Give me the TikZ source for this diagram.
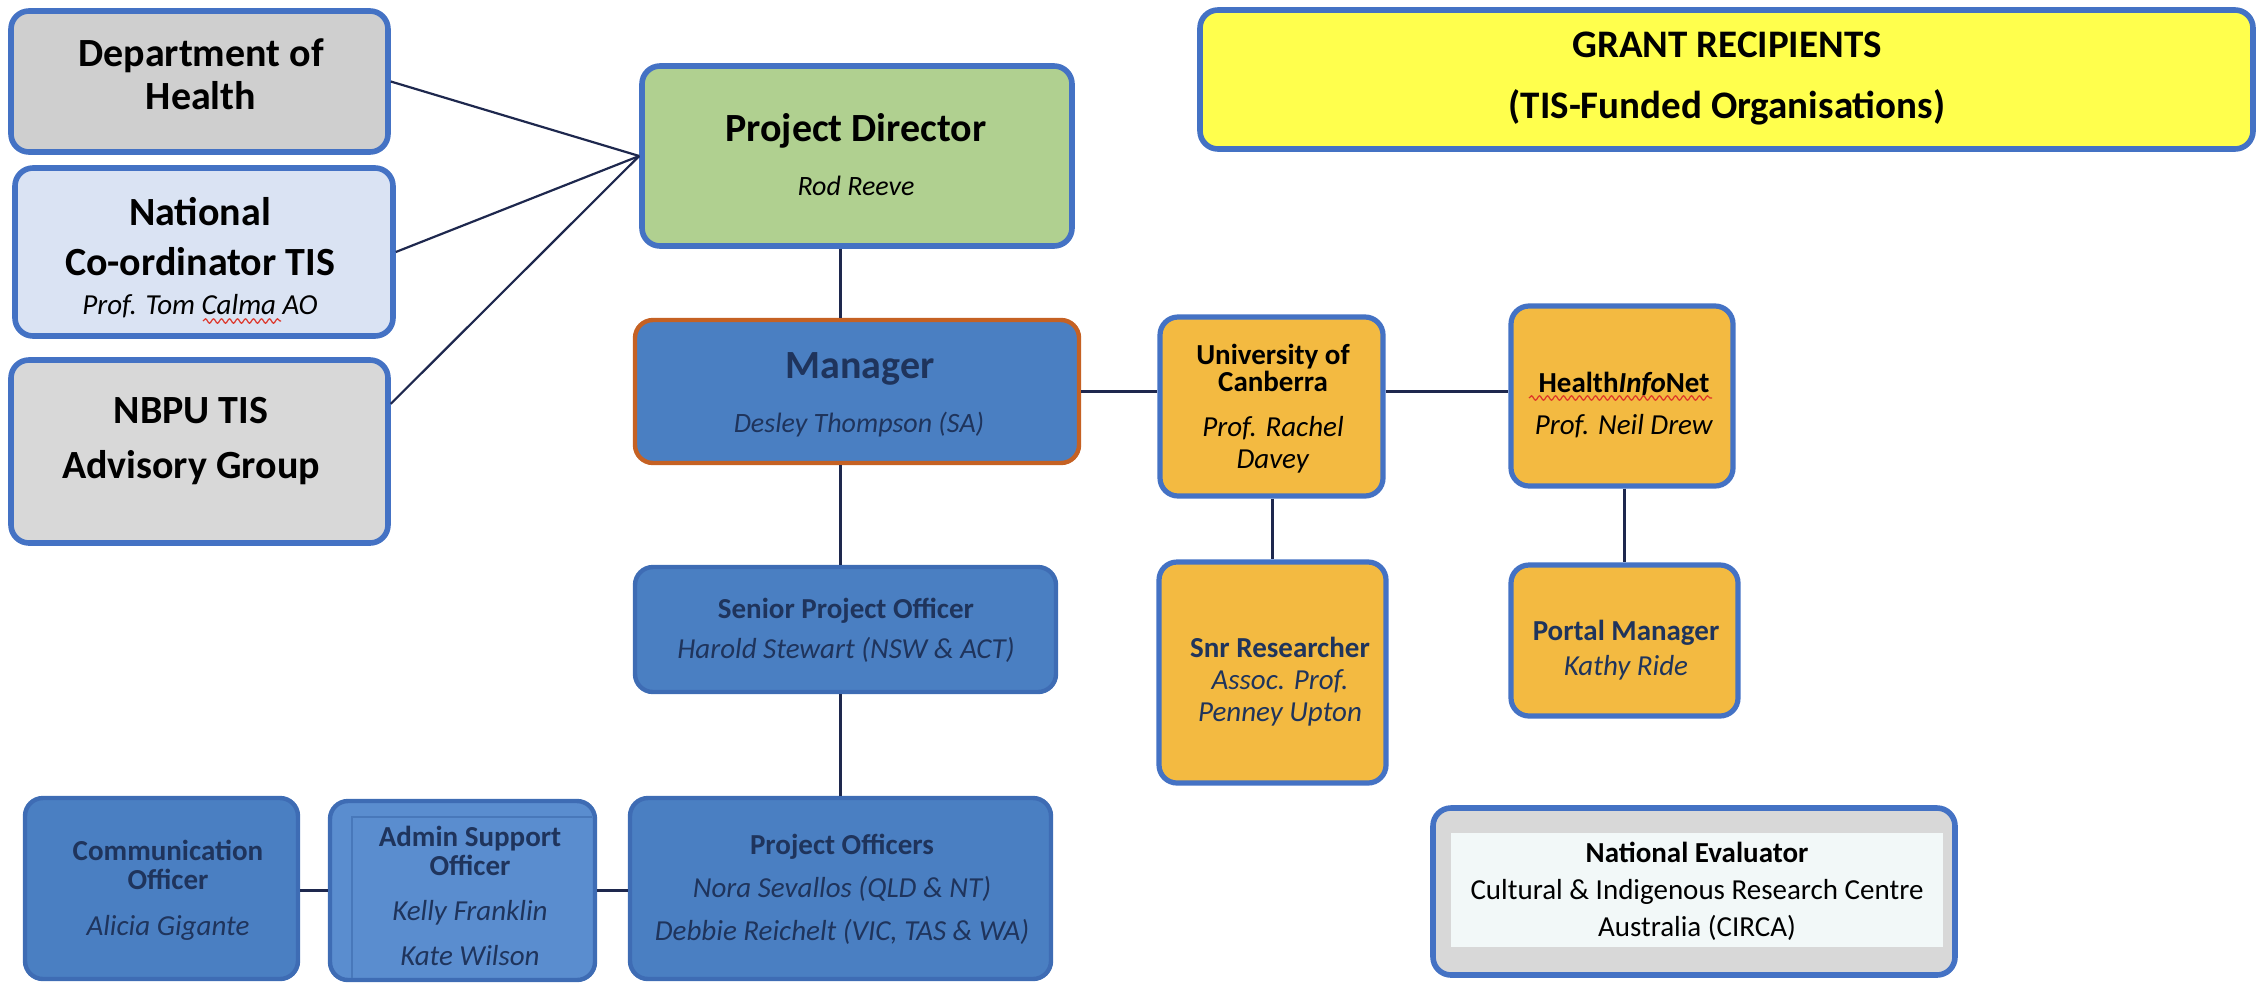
\documentclass[tikz,border=0pt]{standalone}
\usepackage{fontspec}
\setmainfont{Carlito}
\usetikzlibrary{decorations.pathmorphing}

\tikzset{every picture/.style={line width=0.75pt}}

\begin{document}
\begin{tikzpicture}[x=0.5pt,y=0.5pt,yscale=-1,xscale=1,
	rbox/.style={draw={rgb, 255:red, 68; green, 114; blue, 196 }, line width=2.8pt, rounded corners=9pt, inner sep=0pt},
	staffbox/.style={rbox, draw={rgb, 255:red, 62; green, 108; blue, 180 }, fill={rgb, 255:red, 74; green, 127; blue, 194 }, line width=2.2pt},
	tisbox/.style={rbox, fill={rgb, 255:red, 243; green, 186; blue, 65 }, line width=2.6pt},
	link/.style={draw={rgb, 255:red, 30; green, 40; blue, 78 }, line width=1.1pt},
	squiggle/.style={draw={rgb, 255:red, 222; green, 52; blue, 40 }, line width=0.6pt, decorate, decoration={snake, amplitude=1.1pt, segment length=4pt}},
	txt/.style={anchor=base, align=center, inner sep=0pt},
	navy/.style={text={rgb, 255:red, 31; green, 52; blue, 92 }},
	bigfont/.style={font=\fontsize{20}{#1}\selectfont\bfseries},
	smallfont/.style={font=\fontsize{14.5}{#1}\selectfont}
	]
\useasboundingbox (0,0) rectangle (2257,986);

%Shape: Rounded Rect  -- left column
\node[rbox, fill={rgb, 255:red, 207; green, 207; blue, 207 }, minimum width=188.5pt, minimum height=70.5pt] (dept) at (199.5,81.5) {};
\node[rbox, fill={rgb, 255:red, 218; green, 227; blue, 243 }, minimum width=189pt, minimum height=84pt] (natl) at (204,252) {};
\node[rbox, fill={rgb, 255:red, 216; green, 216; blue, 216 }, minimum width=188.5pt, minimum height=91.5pt] (nbpu) at (199.5,451.5) {};

%Shape: Rounded Rect  -- director and manager
\node[rbox, fill={rgb, 255:red, 176; green, 208; blue, 144 }, minimum width=215pt, minimum height=90pt] (pd) at (857,156) {};
\node[staffbox, draw={rgb, 255:red, 197; green, 97; blue, 35 }, minimum width=222pt, minimum height=71.5pt] (mgr) at (857,391.5) {};

%Shape: Rounded Rect  -- project staff
\node[staffbox, minimum width=210.5pt, minimum height=62.5pt] (spo) at (845.5,629.5) {};
\node[staffbox, minimum width=210.5pt, minimum height=90.5pt] (po) at (840.5,888.5) {};
\node[staffbox, minimum width=136.5pt, minimum height=90.5pt] (comm) at (161.5,888.5) {};
\node[staffbox, fill={rgb, 255:red, 90; green, 141; blue, 207 }, minimum width=132.5pt, minimum height=89.5pt] (admin) at (462.5,890.5) {};
\draw [color={rgb, 255:red, 72; green, 120; blue, 186 }, line width=0.8pt] (352,978) -- (352,817) -- (592,817) ;

%Shape: Rounded Rect  -- grant recipients
\node[rbox, fill={rgb, 255:red, 255; green, 255; blue, 77 }, minimum width=526.5pt, minimum height=69.5pt] (grant) at (1726.5,79.5) {};
\node[tisbox, minimum width=111.5pt, minimum height=89.5pt] (uc) at (1271.5,406.5) {};
\node[tisbox, minimum width=111pt, minimum height=90pt] (hin) at (1622,396) {};
\node[tisbox, minimum width=113.5pt, minimum height=110.5pt] (sr) at (1272.5,672.5) {};
\node[tisbox, minimum width=113.5pt, minimum height=75.5pt] (pm) at (1624.5,640.5) {};

%Shape: Rounded Rect  -- evaluator
\node[rbox, fill={rgb, 255:red, 216; green, 216; blue, 216 }, minimum width=261pt, minimum height=83.5pt] (evalr) at (1694,891.5) {};
\node[fill={rgb, 255:red, 242; green, 248; blue, 248 }, inner sep=0pt, minimum width=246pt, minimum height=57pt] (evalr-in) at (1697,890) {};

%Straight Lines
\draw[link] (dept.east) -- (pd.west) ;
\draw[link] (natl.east) -- (pd.west) ;
\draw[link] (nbpu.14) -- (pd.west) ;
\draw[link] (pd.south -| po.north) -- (mgr.north -| po.north) ;
\draw[link] (mgr.south -| po.north) -- (spo.north -| po.north) ;
\draw[link] (spo.south -| po.north) -- (po.north) ;
\draw[link] (mgr.east) -- (uc.west |- mgr.east) ;
\draw[link] (uc.east |- mgr.east) -- (hin.west |- mgr.east) ;
\draw[link] (uc.south -| sr.north) -- (sr.north) ;
\draw[link] (hin.south -| pm.north) -- (pm.north) ;
\draw[link] (comm.east |- admin.west) -- (admin.west) ;
\draw[link] (admin.east) -- (po.west |- admin.east) ;

% Text Node  (multi-line nodes sit on the baseline of their last line)
\node[txt, bigfont=21.5] (dept-txt) at (201,109) {Department of\\Health};
\node[txt, bigfont=25] (natl-txt) at (200,275) {National\\Co-ordinator TIS};
\node[txt, font=\fontsize{14.5}{17}\selectfont\itshape] (natl-name) at (200,314) {Prof. Tom Calma AO};
\node[txt, bigfont=27.5] (nbpu-txt) at (191,478) {NBPU TIS\\Advisory Group};
\node[txt, bigfont=24] (pd-title) at (856,141) {Project Director};
\node[txt, font=\fontsize{14}{17}\selectfont\itshape] (pd-name) at (856,195) {Rod Reeve};
\node[txt, navy, bigfont=24] (mgr-title) at (860,378) {Manager};
\node[txt, navy, font=\fontsize{14}{17}\selectfont\itshape] (mgr-name) at (859,432) {Desley Thompson (SA)};
\node[txt, font=\fontsize{19.5}{30.5}\selectfont\bfseries] (grant-txt) at (1727,118) {GRANT RECIPIENTS\\(TIS-Funded Organisations)};

% Text Node
\node[txt, navy, smallfont=20] (spo-txt) at (846,658) {\textbf{Senior Project Officer}\\\textit{Harold Stewart (NSW \& ACT)}};
\node[txt, navy, smallfont=21.5] (po-txt) at (842,940) {\textbf{Project Officers}\\\textit{Nora Sevallos (QLD \& NT)}\\\textit{Debbie Reichelt (VIC, TAS \& WA)}};
\node[txt, navy, smallfont=14.5] (comm-txt) at (168,935) {\textbf{Communication}\\\textbf{Officer}\\[8.5pt]\textit{Alicia Gigante}};
\node[txt, navy, smallfont=14.5] (admin-txt) at (470,965) {\textbf{Admin Support}\\\textbf{Officer}\\[8pt]\textit{Kelly Franklin}\\[8pt]\textit{Kate Wilson}};

% Text Node
\node[txt, smallfont=13.5] (uc-txt) at (1273,468) {\textbf{University of}\\\textbf{Canberra}\\[9pt]\textit{Prof. Rachel}\\[2.5pt]\textit{Davey}};
\node[txt, smallfont=21] (hin-txt) at (1624,434) {\textbf{Health\textit{Info}Net}\\\textit{Prof. Neil Drew}};
\node[txt, navy, smallfont=16] (sr-txt) at (1280,721) {\textbf{Snr Researcher}\\\textit{Assoc. Prof.}\\\textit{Penney Upton}};
\node[txt, navy, smallfont=17.5] (pm-txt) at (1626,675) {\textbf{Portal Manager}\\\textit{Kathy Ride}};
\node[txt, smallfont=18.5] (evalr-txt) at (1697,936) {\textbf{National Evaluator}\\Cultural \& Indigenous Research Centre\\Australia (CIRCA)};

%Curve Lines  -- spelling marks
\draw[squiggle] (203,321) -- (281,321) ;
\draw[squiggle] (1529,398) -- (1712,398) ;
\end{tikzpicture}
\end{document}
